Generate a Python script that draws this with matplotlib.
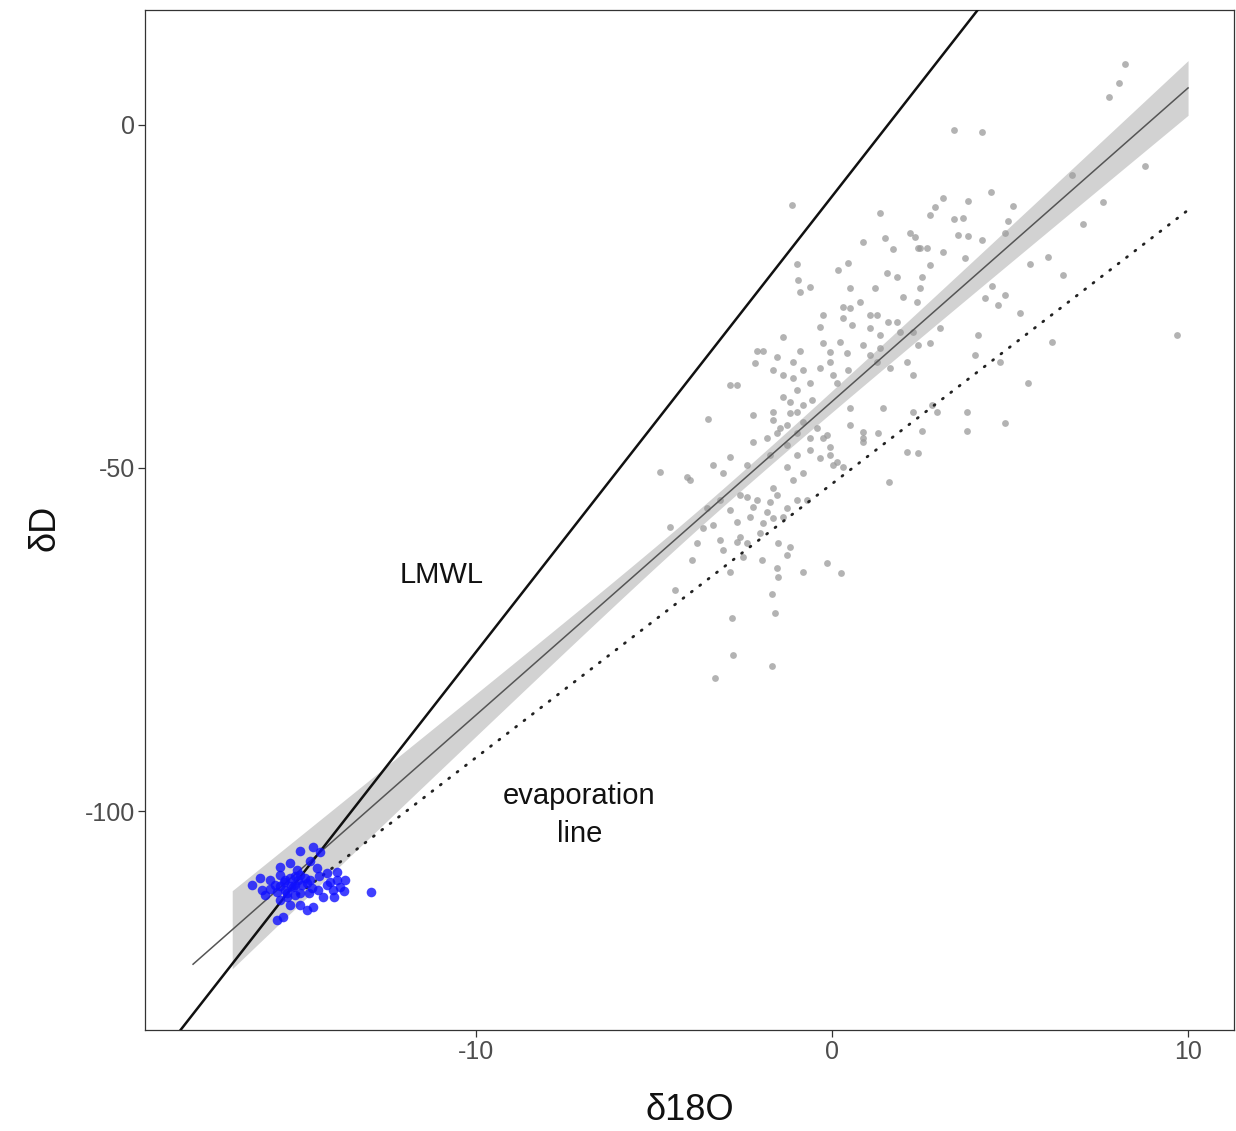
import numpy as np
import matplotlib
matplotlib.use("Agg")
import matplotlib.pyplot as plt

plt.rcParams['font.family'] = ['Liberation Sans', 'DejaVu Sans']

# ---- data ----
gray_d18O = [8.23, 8.06, 7.78, 3.43, 4.21, 8.79, 4.47, 3.12, 3.82, 5.08, 2.89, 2.75, 3.43, 3.68, 4.94,
             7.61, 7.05, 6.74, 3.54, 3.82, 4.21, 2.47, 2.67, 3.12, 3.74, 6.07, 5.56, 2.75, 4.86,
             -1.12, 1.35, 2.19, 2.33, 0.87, 1.49, 1.71, 2.42, 0.45, -0.98,
             -0.96, -0.62, -0.90, 0.17, 0.51, 1.21, 1.54, 1.83, 0.31, 0.79, 0.51, 1.26, 1.99, 2.39,
             0.31, 0.56, -0.34, 1.07, 1.57, 1.91, -1.38, -0.25, 0.22, 1.35, -2.11, -1.94, -0.90,
             -1.54, -0.06, 0.42, -1.10, -2.16, 1.07, -0.06, 2.11, -1.66, -0.81, -0.34, -1.38, 0.03,
             -1.10, 0.45, 1.63, 2.28, -2.87, -2.67, -0.62, 0.14, -0.98, -1.38, -1.18, -0.81, -0.56,
             0.51, 1.43, 2.28, -3.48, -2.22, -1.66, -1.18, -1.26, -0.81, -1.83, -1.54, -0.98, -0.62,
             -0.14, 0.87, 1.29, -2.22, -1.26, -0.62, -0.06, 0.87, 2.11, -2.87, -1.74, -0.98, -0.34,
             0.03, -4.83, -3.34, -3.06, -2.39, -1.26, -0.81, 0.31, -4.07,
             6.49, 2.53, 2.47, 4.49, 4.86, 4.30, 4.66, 5.28, 3.03, 4.10, 6.18, 2.75, 2.42, 9.69,
             4.02, 5.51, 3.79, 2.81, 2.95, 4.86, 3.79, 2.53, 2.42, 4.72,
             -3.99, 1.60, -1.10, -1.66, -0.98, -0.70, -2.39, -2.11, -1.74, -2.87, -2.30, -1.83,
             -2.67, -1.66, -1.38, -4.55, -3.62, -2.02, -3.15, -2.58, -3.79, -2.39, -1.52, -1.18,
             -1.26, -3.06, -2.50, -1.97, -3.93, -2.87, -1.54, -0.81, -0.14, 0.25, -1.52, -4.41,
             -1.69, -1.60, -2.81, -2.78, -1.69, -3.29,
             0.14, 0.87, -0.25, -0.06, -1.66, -0.98, -1.46, -0.42, 0.51, 1.26, 0.87, 1.35, 1.83,
             2.28, 1.07, -0.25, -2.67, -3.34, -2.22, -1.54, -2.58, -1.26, -1.94, -3.51, -3.15]
gray_dD = [8.89, 6.12, 4.08, -0.73, -1.02, -5.98, -9.77, -10.64, -11.08, -11.81, -11.95, -13.12,
           -13.70, -13.56, -13.99, -11.22, -14.43, -7.29, -16.03, -16.18, -16.76, -17.93, -17.93,
           -18.51, -19.39, -19.24, -20.26, -20.41, -15.74,
           -11.66, -12.83, -15.74, -16.33, -17.06, -16.47, -18.08, -17.93, -20.12, -20.26,
           -22.59, -23.62, -24.34, -21.14, -23.76, -23.76, -21.57, -22.16, -26.53, -25.80, -26.68,
           -27.70, -25.07, -25.80, -28.13, -29.15, -29.45, -29.59, -28.72, -30.17, -30.90, -31.78,
           -31.63, -30.61, -32.94, -32.94, -32.94, -33.82, -33.09, -33.24, -34.55, -34.69, -33.53,
           -34.55, -34.55, -35.71, -35.71, -35.42, -36.44, -36.44, -36.88, -35.71, -35.42, -36.44,
           -37.90, -37.90, -37.61, -37.61, -38.63, -39.65, -40.38, -40.82, -40.09, -41.25, -41.25,
           -41.84, -42.86, -42.27, -43.00, -41.98, -43.73, -43.29, -45.63, -44.90, -44.90, -45.63,
           -45.19, -44.75, -44.90, -46.21, -46.65, -47.38, -46.94, -46.21, -47.67, -48.40, -48.10,
           -48.10, -48.54, -49.56, -50.58, -49.56, -50.73, -49.56, -49.85, -50.73, -49.85, -51.31,
           -21.87, -22.16, -23.76, -23.47, -24.78, -25.22, -26.24, -27.41, -29.59, -30.61, -31.63,
           -31.78, -32.07, -30.61, -33.53, -37.61, -41.84, -40.82, -41.84, -43.44, -44.61, -44.61,
           -47.81, -34.55,
           -51.75, -52.04, -51.75, -52.92, -54.66, -54.66, -54.23, -54.66, -54.96, -56.12, -57.14,
           -56.41, -57.87, -57.29, -57.14, -58.60, -58.75, -59.48, -60.50, -60.06, -60.93, -60.93,
           -60.93, -61.52, -62.68, -61.95, -62.97, -63.41, -63.41, -65.16, -64.58, -65.16, -63.85,
           -65.31, -65.89, -67.78, -68.37, -71.14, -71.87, -77.26, -78.86, -80.61,
           -49.1, -45.6, -45.6, -48.1, -41.8, -41.8, -44.2, -44.2, -43.7, -34.5, -32.1, -32.5,
           -28.7, -30.2, -27.7, -27.7, -60.8, -58.3, -55.7, -53.9, -53.9, -55.8, -58.0, -55.8,
           -54.7]

blue_d18O = [-16.29, -16.01, -15.79, -15.59, -15.42, -15.51, -15.22, -15.03, -15.14, -15.31, -14.94,
             -14.75, -14.58, -14.38, -14.47, -14.19, -13.90, -13.82, -14.02, -14.30, -14.58, -14.75,
             -14.66, -14.10, -12.95, -15.51, -15.37, -15.22, -15.08, -15.37, -15.65, -14.94, -15.08,
             -15.51, -14.94, -15.22, -15.93, -14.44, -13.68, -16.07, -14.66, -14.94,
             -15.0, -15.4, -15.2, -14.9, -15.5, -15.1, -14.8, -15.3, -14.7, -15.6, -14.6, -15.8,
             -14.4, -14.2, -14.0, -13.7, -13.9]
blue_dD = [-110.79, -111.52, -110.06, -115.89, -115.45, -108.16, -107.58, -108.60, -111.08, -111.95,
           -111.95, -110.50, -105.25, -105.98, -108.31, -109.04, -108.89, -111.08, -111.52, -112.54,
           -114.00, -114.43, -110.06, -110.35, -111.81, -109.33, -110.06, -109.77, -110.79, -111.52,
           -110.79, -109.33, -112.24, -112.97, -113.70, -113.70, -112.24, -111.52, -110.06, -109.77,
           -107.29, -105.83,
           -110.0, -110.3, -111.0, -110.8, -110.9, -109.5, -109.8, -112.5, -112.0, -111.8, -111.2,
           -111.3, -109.5, -110.8, -112.6, -111.6, -110.0]

# lines (slope, intercept, x-range)
lmwl_slope, lmwl_intercept = 6.64, -10.4
fit_slope, fit_intercept = 4.57, -40.3
fit_line_range = (-17.95, 10.0)
band_range = (-16.85, 10.0)
evap_slope, evap_intercept = 3.99, -52.3
evap_range = (-15.0, 10.0)

x_ticks = [-10, 0, 10]
y_ticks = [0, -50, -100]

# ---- figure ----
W, H = 1236, 1131
fig = plt.figure(figsize=(W / 100, H / 100), dpi=100)
ax = fig.add_axes([145 / W, 1 - 1030 / H, (1234 - 145) / W, (1030 - 10) / H])
ax.set_xlim(-19.30, 11.29)
ax.set_ylim(-131.92, 16.76)

# confidence band of the fit (hyperbolic, as for a linear-model CI)
xb = np.linspace(band_range[0], band_range[1], 200)
x0 = -3.0
b = np.where(xb < x0, 0.40, 0.29)
hw = np.sqrt(1.3 ** 2 + (b * (xb - x0)) ** 2)
yb = fit_slope * xb + fit_intercept
ax.fill_between(xb, yb - hw, yb + hw, color='#d2d2d2', lw=0, zorder=1)

ax.scatter(gray_d18O, gray_dD, s=24, color='#9a9a9a', alpha=0.75, lw=0, zorder=2)

xf = np.array(fit_line_range)
ax.plot(xf, fit_slope * xf + fit_intercept, color='#555555', lw=1.1, zorder=3)

xl = np.array([-25, 15])
ax.plot(xl, lmwl_slope * xl + lmwl_intercept, color='#111111', lw=1.8, zorder=3)

xe = np.array(evap_range)
ax.plot(xe, evap_slope * xe + evap_intercept, color='#222222', lw=2.0,
        linestyle=(0, (0.4, 3.4)), dash_capstyle='round', zorder=3)

ax.scatter(blue_d18O, blue_dD, s=48, color='#1010ff', alpha=0.8, lw=0, zorder=4)

ax.text(-10.98, -65.6, 'LMWL', fontsize=21, ha='center', va='center', color='#111111')
ax.text(-7.1, -100.6, 'evaporation\nline', fontsize=21, ha='center', va='center',
        color='#111111', linespacing=1.45)

ax.set_xticks(x_ticks)
ax.set_yticks(y_ticks)
ax.set_xticklabels([str(v) for v in x_ticks])
ax.set_yticklabels([str(v) for v in y_ticks])
ax.tick_params(axis='both', direction='out', length=5, width=0.9, color='#333333',
               labelsize=18, labelcolor='#4d4d4d', pad=2)
for s in ax.spines.values():
    s.set_color('#333333')
    s.set_linewidth(0.9)

ax.set_xlabel('δ18O', fontsize=26, color='#111111', va='center')
ax.set_ylabel('δD', fontsize=26, color='#111111', va='center')
ax.xaxis.set_label_coords(0.5, (1030 - 1110) / 1020)
ax.yaxis.set_label_coords((45 - 145) / 1089, (1030 - 528) / 1020)

fig.savefig('out.png', dpi=100)
